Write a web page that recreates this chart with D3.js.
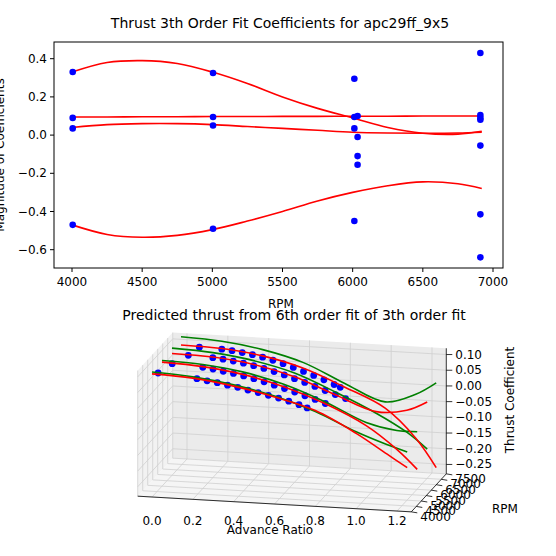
<!DOCTYPE html><html><head><meta charset="utf-8">
<script src="https://cdn.jsdelivr.net/npm/d3@7"></script>
<style>body{margin:0;background:#fff}text{font-family:"DejaVu Sans",sans-serif}</style></head><body>
<svg id="c" width="556" height="556"></svg>
<script>
// ---- top chart data ----
const ptRPM = [4005,4005,4005,4005, 5005,5005,5005,5005, 6012,6012,6012,6012, 6035,6035,6035,6035, 6910,6910,6910,6910,6910,6910,6910];
const ptVal = [0.33,0.09,0.035,-0.47, 0.325,0.095,0.05,-0.49, 0.295,0.095,0.035,-0.45, 0.1,-0.01,-0.11,-0.155, 0.43,0.105,0.08,0.09,-0.055,-0.415,-0.64];
const fitRPM = [4000,4250,4500,4750,5000,5250,5500,5750,6000,6250,6500,6750,6920];
const fit1 = [0.33,0.38,0.39,0.375,0.33,0.27,0.2,0.14,0.09,0.04,0.01,0.005,0.02];
const fit2 = [0.095,0.095,0.096,0.096,0.097,0.097,0.098,0.098,0.099,0.099,0.1,0.1,0.1];
const fit3 = [0.04,0.055,0.06,0.06,0.055,0.045,0.035,0.025,0.015,0.011,0.01,0.011,0.015];
const fit4 = [-0.47,-0.52,-0.535,-0.525,-0.495,-0.45,-0.4,-0.345,-0.3,-0.265,-0.245,-0.255,-0.28];
const xTicks = [4000,4500,5000,5500,6000,6500,7000];
const yTicks = [-0.6,-0.4,-0.2,0.0,0.2,0.4];

// ---- 3D chart data ----
const rpms = [4000,5000,6000,6900];
const blueJ = [
 [0.03,0.22,0.27,0.32,0.37,0.42,0.47,0.52,0.57,0.62,0.67,0.72,0.76],
 [0.05,0.2,0.25,0.3,0.35,0.4,0.45,0.5,0.55,0.6,0.65,0.7,0.75,0.8],
 [0.08,0.2,0.25,0.3,0.35,0.4,0.45,0.5,0.55,0.6,0.65,0.7,0.75,0.8,0.85],
 [0.09,0.2,0.25,0.3,0.35,0.4,0.45,0.5,0.55,0.6,0.65,0.7,0.75,0.78]];
const blueCT = [
 [0.116,0.105,0.1,0.096,0.09,0.085,0.078,0.072,0.065,0.058,0.05,0.041,0.032],
 [0.112,0.106,0.102,0.097,0.092,0.086,0.079,0.071,0.062,0.053,0.044,0.034,0.024,0.013],
 [0.105,0.102,0.099,0.095,0.09,0.084,0.077,0.069,0.06,0.05,0.04,0.029,0.018,0.007,-0.004],
 [0.1,0.098,0.095,0.091,0.086,0.08,0.072,0.063,0.053,0.042,0.031,0.019,0.006,-0.002]];
const fitJ = [0,0.2,0.4,0.6,0.8,1.0,1.15,1.25];
const redCT = [
 [0.112,0.106,0.088,0.061,0.025,-0.04,-0.1,-0.14],
 [0.115,0.108,0.09,0.058,0.012,-0.05,-0.12,-0.18],
 [0.108,0.104,0.088,0.056,0.006,-0.04,-0.03,0.0],
 [0.104,0.1,0.084,0.052,0.0,-0.06,-0.15,-0.24]];
const greenCT = [
 [0.118,0.11,0.092,0.064,0.022,-0.035,-0.07,-0.09],
 [0.12,0.115,0.098,0.066,0.018,-0.04,-0.06,-0.06],
 [0.125,0.118,0.1,0.068,0.015,-0.045,-0.1,-0.15],
 [0.13,0.123,0.104,0.07,0.012,-0.04,-0.01,0.03]];
const jTicks = [0.0,0.2,0.4,0.6,0.8,1.0,1.2];
const ctTicks = [0.10,0.05,0.00,-0.05,-0.10,-0.15,-0.20,-0.25];
const rpmTicks = [4000,4500,5000,5500,6000,6500,7000,7500];

const svg = d3.select("#c");
// ===== top =====
const L=54,R=503,T=42,B=268;
const x = d3.scaleLinear().domain([4000,7000]).range([72,493]);
const y = d3.scaleLinear().domain([-0.6,0.4]).range([249.7,58.7]);
const g = svg.append("g");
const line = d3.line().x((d,i)=>x(fitRPM[i])).y(d=>y(d)).curve(d3.curveCatmullRom);
[fit1,fit2,fit3,fit4].forEach(f=>g.append("path").attr("d",line(f)).attr("fill","none").attr("stroke","red").attr("stroke-width",1.6));
ptRPM.forEach((r,i)=>g.append("circle").attr("cx",x(r)).attr("cy",y(ptVal[i])).attr("r",3.3).attr("fill","blue"));
g.append("rect").attr("x",L).attr("y",T).attr("width",R-L).attr("height",B-T).attr("fill","none").attr("stroke","#000").attr("stroke-width",1);
xTicks.forEach(t=>{g.append("line").attr("x1",x(t)).attr("x2",x(t)).attr("y1",B).attr("y2",B+4).attr("stroke","#000");
 g.append("text").attr("x",x(t)).attr("y",B+18).attr("text-anchor","middle").attr("font-size",12).text(t);});
yTicks.forEach(t=>{g.append("line").attr("x1",L-4).attr("x2",L).attr("y1",y(t)).attr("y2",y(t)).attr("stroke","#000");
 g.append("text").attr("x",L-7).attr("y",y(t)+4).attr("text-anchor","end").attr("font-size",12).text(d3.format(".1f")(t).replace("-","\u2212"));});
g.append("text").attr("x",281).attr("y",308).attr("text-anchor","middle").attr("font-size",12).text("RPM");
g.append("text").attr("transform","translate(4,155) rotate(-90)").attr("text-anchor","middle").attr("font-size",12).text("Magnitude of Coefficients");
g.append("text").attr("x",280).attr("y",28).attr("text-anchor","middle").attr("font-size",14).text("Thrust 3th Order Fit Coefficients for apc29ff_9x5");

// ===== 3D =====
const jS = d3.scaleLinear().domain([0,1.2]).range([0,245]);
const rS = d3.scaleLinear().domain([4000,7500]).range([0,1]);
const zS = d3.scaleLinear().domain([-0.28,0.12]).range([0,125.6]);
const P = (J,rpm,ct)=>{const r=rS(rpm);return [152+jS(J)+r*35, 497+J*11.7-r*38-zS(ct)];};
const h = svg.append("g");
const J0=-0.07,J1=1.27,R0=4000,R1=7500,C0=-0.28,C1=0.12;
const poly = pts=>"M"+pts.map(p=>p.join(",")).join("L")+"Z";
h.append("path").attr("d",poly([P(J0,R1,C0),P(J1,R1,C0),P(J1,R1,C1),P(J0,R1,C1)])).attr("fill","#ebebeb");
h.append("path").attr("d",poly([P(J0,R0,C0),P(J0,R1,C0),P(J0,R1,C1),P(J0,R0,C1)])).attr("fill","#f2f2f2");
h.append("path").attr("d",poly([P(J0,R0,C0),P(J1,R0,C0),P(J1,R1,C0),P(J0,R1,C0)])).attr("fill","#f5f5f5");
const gl=(a,b)=>h.append("line").attr("x1",a[0]).attr("y1",a[1]).attr("x2",b[0]).attr("y2",b[1]).attr("stroke","#cfcfcf").attr("stroke-width",0.8);
jTicks.forEach(t=>{gl(P(t,R1,C0),P(t,R1,C1));gl(P(t,R0,C0),P(t,R1,C0));});
ctTicks.forEach(t=>{gl(P(J0,R1,t),P(J1,R1,t));gl(P(J0,R0,t),P(J0,R1,t));});
rpmTicks.forEach(t=>{gl(P(J0,t,C0),P(J1,t,C0));gl(P(J0,t,C0),P(J0,t,C1));});
const al=(a,b)=>h.append("line").attr("x1",a[0]).attr("y1",a[1]).attr("x2",b[0]).attr("y2",b[1]).attr("stroke","#000").attr("stroke-width",0.8);
al(P(J0,R0,C0),P(J1,R0,C0)); al(P(J1,R0,C0),P(J1,R1,C0)); al(P(J1,R1,C0),P(J1,R1,C1));
jTicks.forEach(t=>{const p=P(t,R0,C0);h.append("text").attr("x",p[0]).attr("y",p[1]+28-t*11.7).attr("text-anchor","middle").attr("font-size",12).text(t.toFixed(1));});
ctTicks.forEach(t=>{const p=P(J1,R1,t);al(p,[p[0]+6,p[1]]);h.append("text").attr("x",p[0]+9).attr("y",p[1]+4).attr("font-size",12).text(t.toFixed(2).replace("-","\u2212"));});
rpmTicks.forEach(t=>{const p=P(J1,t,C0);al(p,[p[0]+6,p[1]+1]);h.append("text").attr("x",p[0]+9).attr("y",p[1]+9).attr("font-size",12).text(t);});
const l3 = d3.line().curve(d3.curveCatmullRom);
rpms.forEach((rpm,k)=>{
 const pts = blueJ[k].map((j,i)=>P(j,rpm,blueCT[k][i]));
 pts.forEach(p=>h.append("circle").attr("cx",p[0]).attr("cy",p[1]).attr("r",3.4).attr("fill","blue"));
});
rpms.forEach((rpm,k)=>{
 h.append("path").attr("d",l3(fitJ.map((j,i)=>P(j,rpm,greenCT[k][i])))).attr("fill","none").attr("stroke","green").attr("stroke-width",1.6);
 h.append("path").attr("d",l3(fitJ.map((j,i)=>P(j,rpm,redCT[k][i])))).attr("fill","none").attr("stroke","red").attr("stroke-width",1.6);
});
h.append("text").attr("x",270).attr("y",534).attr("text-anchor","middle").attr("font-size",12).text("Advance Ratio");
h.append("text").attr("x",492).attr("y",513).attr("font-size",12).text("RPM");
h.append("text").attr("transform","translate(514,400) rotate(-90)").attr("text-anchor","middle").attr("font-size",12).text("Thrust Coefficient");
h.append("text").attr("x",294).attr("y",320).attr("text-anchor","middle").attr("font-size",14).text("Predicted thrust from 6th order fit of 3th order fit");
</script></body></html>
